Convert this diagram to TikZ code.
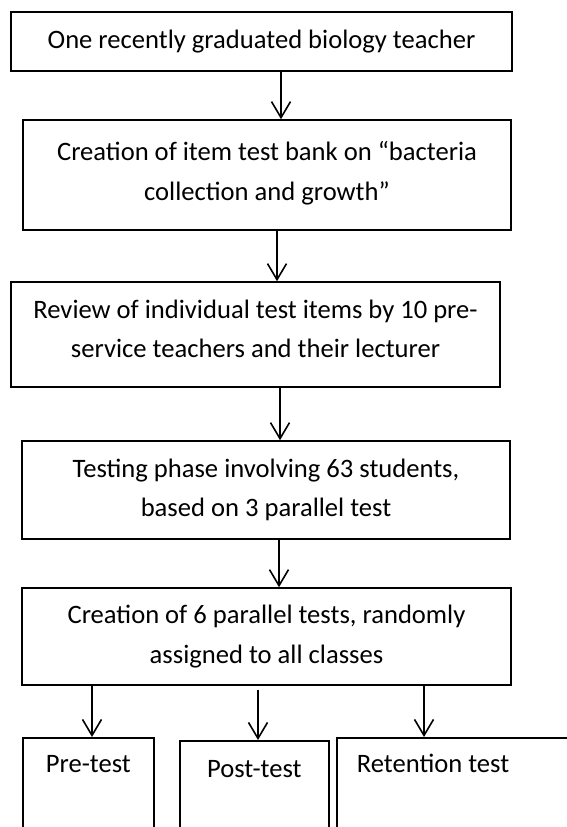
\documentclass[tikz,border=0pt]{standalone}
\usepackage{fontspec}
\setmainfont{Carlito}
\usetikzlibrary{arrows.meta}
\begin{document}
\begin{tikzpicture}[x=1pt,y=-1pt,
  boxnode/.style={draw=black, line width=1.6pt, inner sep=0pt, align=center,
    font=\fontsize{26.6}{39.5}\selectfont},
  lbl/.style={inner sep=0pt, font=\fontsize{26.6}{39.5}\selectfont},
  arr/.style={draw=black, line width=1.6pt, -{Straight Barb[length=16pt,width=19pt,line width=1.6pt]}}]
\fill[white] (0,0) rectangle (567,827);
\useasboundingbox (0,0) rectangle (567,827);
\clip (0,0) rectangle (567,827);
\node[boxnode, minimum width=501pt, minimum height=59pt] (b1) at (261.5,41.5)
  {One recently graduated biology teacher};
\node[boxnode, minimum width=488pt, minimum height=110pt] (b2) at (267,175)
  {Creation of item test bank on “bacteria\\collection and growth”\\[-31.5pt]};
\node[boxnode, minimum width=489pt, minimum height=105pt] (b3) at (255.5,334.5)
  {Review of individual test items by 10 pre-\\service teachers and their lecturer\\[-28.5pt]};
\node[boxnode, minimum width=488pt, minimum height=98pt] (b4) at (266,490)
  {Testing phase involving 63 students,\\based on 3 parallel test};
\node[boxnode, minimum width=489pt, minimum height=97pt] (b5) at (266.5,636.5)
  {Creation of 6 parallel tests, randomly\\assigned to all classes};
\node[boxnode, anchor=north west, minimum width=131pt, minimum height=140pt] (p1) at (22,737) {};
\node[boxnode, anchor=north west, minimum width=149pt, minimum height=140pt] (p2) at (179,740) {};
\node[boxnode, anchor=north west, minimum width=260pt, minimum height=140pt] (p3) at (336,737) {};
\node[lbl, anchor=base] (t1) at ([yshift=-35pt]p1.north) {Pre-test};
\node[lbl, anchor=base] (t2) at ([yshift=-37pt]p2.north) {Post-test};
\node[lbl, anchor=base] (t3) at ([xshift=97pt,yshift=-35pt]p3.north west) {Retention test};
\coordinate (x1) at (281,0);
\coordinate (x2) at (277,0);
\coordinate (x3) at (280,0);
\coordinate (x4) at (279,0);
\coordinate (x5) at (92,0);
\coordinate (x6) at (258,0);
\coordinate (x7) at (424,0);
\draw[arr] (b1.south -| x1) -- (b2.north -| x1);
\draw[arr] (b2.south -| x2) -- (b3.north -| x2);
\draw[arr] (b3.south -| x3) -- (b4.north -| x3);
\draw[arr] (b4.south -| x4) -- (b5.north -| x4);
\draw[arr] (b5.south -| x5) -- (p1.north -| x5);
\draw[arr, shorten <=4pt] (b5.south -| x6) -- (p2.north -| x6);
\draw[arr] (b5.south -| x7) -- (p3.north -| x7);
\end{tikzpicture}
\end{document}
